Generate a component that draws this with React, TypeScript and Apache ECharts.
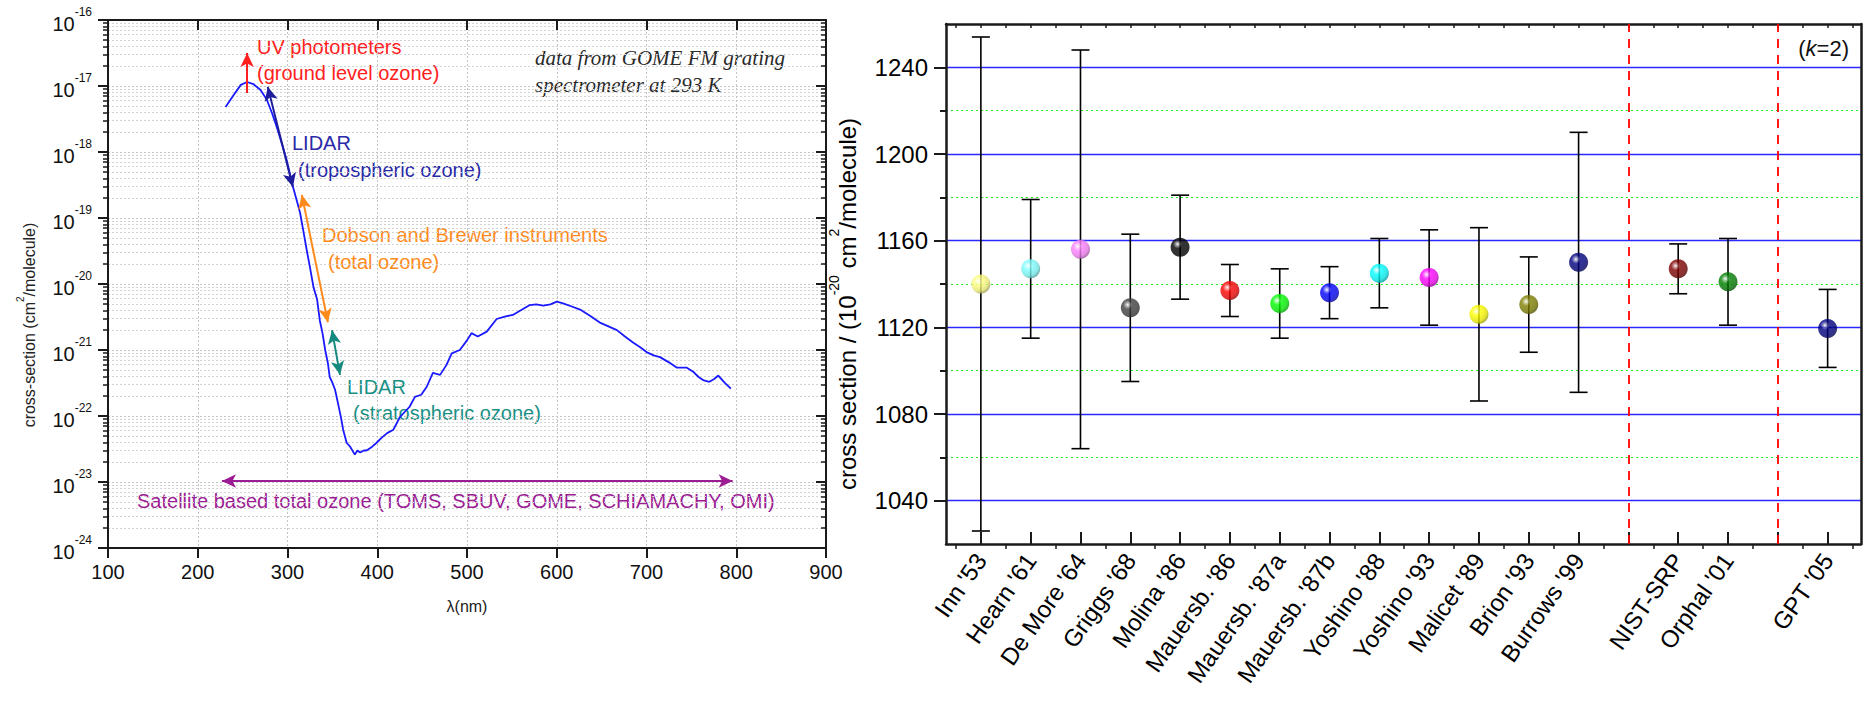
import React, { useEffect, useRef } from 'react';
import * as echarts from 'echarts';

// ---------------- Left panel: O3 absorption cross-section ----------------
const wavelength = [
  231, 240, 248, 255, 262, 270, 277, 283, 288, 294, 299, 303, 306, 310, 314, 318, 322, 325, 329, 333,
  336, 339, 342, 345, 347, 350, 353, 357, 360, 362, 366, 370, 375, 378, 381, 385, 388, 394, 399, 405,
  411, 418, 425, 431, 436, 442, 449, 455, 462, 470, 477, 483, 492, 500, 505, 512, 522, 533, 542, 551,
  560, 570, 577, 585, 593, 600, 607, 616, 626, 637, 648, 657, 667, 676, 685, 693, 700, 708, 715, 725,
  734, 740, 745, 752, 758, 763, 770, 775, 780, 787, 794,
];
const crossSection = [
  4.8e-18, 7.3e-18, 1.04e-17, 1.15e-17, 1.07e-17, 8.7e-18, 6.2e-18, 3.8e-18, 2.4e-18, 1.3e-18,
  7.6e-19, 4.5e-19, 3.0e-19, 1.9e-19, 1.2e-19, 6.0e-20, 2.95e-20, 1.8e-20, 8.9e-21, 5.8e-21,
  2.8e-21, 1.8e-21, 1.0e-21, 6.3e-22, 3.9e-22, 3.2e-22, 2.5e-22, 1.4e-22, 8.9e-23, 6.2e-23,
  3.9e-23, 3.4e-23, 2.6e-23, 3.0e-23, 2.8e-23, 3.0e-23, 3.0e-23, 3.4e-23, 3.9e-23, 4.7e-23,
  5.5e-23, 6.2e-23, 9.5e-23, 1.17e-22, 1.38e-22, 1.95e-22, 2.1e-22, 2.75e-22, 4.5e-22, 4.2e-22,
  5.9e-22, 8.9e-22, 1.0e-21, 1.4e-21, 1.8e-21, 1.6e-21, 1.9e-21, 2.95e-21, 3.2e-21, 3.4e-21,
  4.0e-21, 4.8e-21, 4.9e-21, 4.7e-21, 4.9e-21, 5.4e-21, 5.1e-21, 4.6e-21, 4.1e-21, 3.3e-21,
  2.6e-21, 2.3e-21, 2.0e-21, 1.6e-21, 1.3e-21, 1.1e-21, 9.3e-22, 8.3e-22, 7.8e-22, 6.5e-22,
  5.4e-22, 5.4e-22, 5.4e-22, 4.7e-22, 3.9e-22, 3.5e-22, 3.3e-22, 3.6e-22, 4.1e-22, 3.2e-22, 2.6e-22,
];
const minorFactors = [2, 3, 4, 5, 6, 7, 8, 9];
const decades = [-24, -23, -22, -21, -20, -19, -18, -17];
const lambdaRange = [100, 900];
const sigmaExpRange = [-24, -16];

// annotation arrows in data space [lambda, sigma]
const arrowUV = [[255, 7.8e-18], [255, 3.16e-17]];
const arrowTropo = [[278, 9.7e-18], [306, 2.95e-19]];
const arrowDobson = [[316, 2.24e-19], [345, 2.63e-21]];
const arrowStrato = [[349.6, 2.0e-21], [358.5, 4.2e-22]];
const arrowSat = [[227, 1.035e-23], [796, 1.035e-23]];

// ---------------- Right panel: cross section comparison ----------------
const studies = [
  "Inn '53", "Hearn '61", "De More '64", "Griggs '68", "Molina '86", "Mauersb. '86",
  "Mauersb. '87a", "Mauersb. '87b", "Yoshino '88", "Yoshino '93", "Malicet '89", "Brion '93",
  "Burrows '99", 'NIST-SRP', "Orphal '01", "GPT '05",
];
const studyPos = [1, 2, 3, 4, 5, 6, 7, 8, 9, 10, 11, 12, 13, 15, 16, 18];
const studyValue = [1140, 1147, 1156, 1129, 1157, 1137, 1131, 1136, 1145, 1143, 1126, 1130.5, 1150, 1147, 1141, 1119.5];
const studyError = [114, 32, 92, 34, 24, 12, 16, 12, 16, 22, 40, 22, 60, 11.5, 20, 18];
const studyColor = [
  '#ffff80', '#80ffff', '#ff80ff', '#404040', '#000000', '#ff0000', '#00ff00', '#0000ff',
  '#00ffff', '#ff00ff', '#ffff00', '#808000', '#000080', '#800000', '#008000', '#000080',
];
const dividerPos = [14, 17];
const catTicks = [1, 2, 3, 4, 5, 6, 7, 8, 9, 10, 11, 12, 13, 14, 15, 16, 17, 18];
const rightMajorTicks = [1040, 1080, 1120, 1160, 1200, 1240];
const rightMinorTicks = [1060, 1100, 1140, 1180, 1220];

const FONT = "'Liberation Sans', Arial, Helvetica, sans-serif";
const AXIS = '#1a1a1a';

const lg = (v: number) => Math.log10(v);

function hexToRgb(h: string) {
  const n = parseInt(h.slice(1), 16);
  return [(n >> 16) & 255, (n >> 8) & 255, n & 255];
}
function mix(h: string, target: number, t: number) {
  const c = hexToRgb(h).map((v) => Math.round(v + (target - v) * t));
  return `rgb(${c[0]},${c[1]},${c[2]})`;
}
function sphere(c: string) {
  return new echarts.graphic.RadialGradient(0.36, 0.34, 0.72, [
    { offset: 0, color: '#ffffff' },
    { offset: 0.12, color: mix(c, 255, 0.55) },
    { offset: 0.32, color: c },
    { offset: 0.75, color: mix(c, 0, 0.12) },
    { offset: 1, color: mix(c, 0, 0.45) },
  ]);
}

function arrowLine(pts: number[][], color: string, both: boolean) {
  return [
    { coord: [pts[0][0], lg(pts[0][1])], symbol: both ? 'arrow' : 'none', lineStyle: { color, width: 2, type: 'solid' }, itemStyle: { color } },
    { coord: [pts[1][0], lg(pts[1][1])], symbol: 'arrow', lineStyle: { color, width: 2, type: 'solid' }, itemStyle: { color } },
  ];
}

function txt(text: string, x: number, y: number, fill: string, size = 20, extra: any = {}) {
  return {
    type: 'text',
    x,
    y,
    silent: true,
    style: {
      text,
      fill,
      fontSize: size,
      fontFamily: FONT,
      align: 'left',
      textAlign: 'left',
      verticalAlign: 'middle',
      textVerticalAlign: 'middle',
      ...extra,
    },
  };
}

export default function App() {
  const ref = useRef<HTMLDivElement>(null);
  useEffect(() => {
    document.body.style.margin = '0';
    const chart = echarts.init(ref.current as HTMLDivElement, null, { renderer: 'svg' });

    const logMinor: number[] = [];
    decades.forEach((e) => minorFactors.forEach((k) => logMinor.push(e + Math.log10(k))));
    const catMinor = catTicks.map((t) => t - 0.5).concat([catTicks[catTicks.length - 1] + 0.5]);
    const catAll = catTicks.concat(catMinor).sort((a, b) => a - b);

    const supRich = {
      b: { fontSize: 20, lineHeight: 28, verticalAlign: 'bottom', fontFamily: FONT, color: '#111' },
      s: { fontSize: 12, lineHeight: 13, verticalAlign: 'top', fontFamily: FONT, color: '#111' },
    };

    const option: any = {
      animation: false,
      textStyle: { fontFamily: FONT },
      grid: [
        { left: 108, top: 20, width: 718, height: 528 },
        { left: 946, top: 24, width: 915, height: 520 },
      ],
      xAxis: [
        {
          gridIndex: 0, type: 'value', position: 'bottom', min: lambdaRange[0], max: lambdaRange[1], interval: 100,
          axisLine: { show: true, lineStyle: { color: AXIS, width: 2 } },
          axisTick: { show: true, inside: false, length: 10, lineStyle: { color: AXIS, width: 2 } },
          axisLabel: { fontSize: 20, color: '#111', margin: 14, fontFamily: FONT },
          splitLine: { show: true, lineStyle: { color: '#c4c4c4', type: [2, 2], width: 1 } },
        },
        {
          gridIndex: 0, type: 'value', position: 'top', min: lambdaRange[0], max: lambdaRange[1], interval: 100,
          axisLine: { show: true, lineStyle: { color: AXIS, width: 2 } },
          axisTick: { show: true, inside: true, length: 10, lineStyle: { color: AXIS, width: 2 } },
          axisLabel: { show: false },
          splitLine: { show: false },
        },
        {
          gridIndex: 1, type: 'value', position: 'bottom', min: 0.3, max: 18.67,
          axisLine: { show: true, lineStyle: { color: AXIS, width: 2.5 } },
          axisTick: { show: true, inside: true, length: 12, customValues: catTicks, lineStyle: { color: AXIS, width: 2 } },
          axisLabel: {
            show: true, customValues: studyPos, rotate: 55, fontSize: 24, margin: 12, color: '#000', fontFamily: FONT,
            formatter: (v: number) => {
              const i = studyPos.indexOf(Math.round(v));
              return i >= 0 ? studies[i] : '';
            },
          },
          splitLine: { show: false },
        },
        {
          gridIndex: 1, type: 'value', position: 'bottom', min: 0.3, max: 18.67,
          axisLine: { show: false },
          axisTick: { show: true, inside: false, length: 5, customValues: catMinor, lineStyle: { color: AXIS, width: 1.5 } },
          axisLabel: { show: false },
          splitLine: { show: false },
        },
        {
          gridIndex: 1, type: 'value', position: 'top', min: 0.3, max: 18.67,
          axisLine: { show: true, lineStyle: { color: AXIS, width: 2.5 } },
          axisTick: { show: true, inside: true, length: 4, customValues: catAll, lineStyle: { color: AXIS, width: 1.5 } },
          axisLabel: { show: false },
          splitLine: { show: false },
        },
      ],
      yAxis: [
        {
          gridIndex: 0, type: 'value', position: 'left', min: sigmaExpRange[0], max: sigmaExpRange[1], interval: 1,
          axisLine: { show: true, lineStyle: { color: AXIS, width: 2 } },
          axisTick: { show: true, inside: false, length: 10, lineStyle: { color: AXIS, width: 2 } },
          axisLabel: {
            margin: 16,
            formatter: (v: number) => `{b|10}{s|${Math.round(v)}}`,
            rich: supRich,
          },
          splitLine: { show: true, lineStyle: { color: '#c4c4c4', type: [2, 2], width: 1 } },
        },
        {
          gridIndex: 0, type: 'value', position: 'left', min: sigmaExpRange[0], max: sigmaExpRange[1],
          axisLine: { show: false },
          axisTick: { show: true, inside: false, length: 5, customValues: logMinor, lineStyle: { color: AXIS, width: 1.5 } },
          axisLabel: { show: false },
          splitLine: { show: true, lineStyle: { color: '#d2d2d2', type: [2, 2], width: 1 } },
        },
        {
          gridIndex: 0, type: 'value', position: 'right', min: sigmaExpRange[0], max: sigmaExpRange[1], interval: 1,
          axisLine: { show: true, lineStyle: { color: AXIS, width: 2 } },
          axisTick: { show: true, inside: true, length: 10, lineStyle: { color: AXIS, width: 2 } },
          axisLabel: { show: false },
          splitLine: { show: false },
        },
        {
          gridIndex: 0, type: 'value', position: 'right', min: sigmaExpRange[0], max: sigmaExpRange[1],
          axisLine: { show: false },
          axisTick: { show: true, inside: true, length: 5, customValues: logMinor, lineStyle: { color: AXIS, width: 1.5 } },
          axisLabel: { show: false },
          splitLine: { show: false },
        },
        {
          gridIndex: 1, type: 'value', position: 'left', min: 1020, max: 1260,
          axisLine: { show: true, lineStyle: { color: AXIS, width: 2.5 } },
          axisTick: { show: true, inside: false, length: 12, customValues: rightMajorTicks, lineStyle: { color: AXIS, width: 2 } },
          axisLabel: {
            show: true, customValues: rightMajorTicks, fontSize: 24, color: '#000', margin: 18, fontFamily: FONT,
            formatter: (v: number) => String(Math.round(v)),
          },
          splitLine: { show: true, lineStyle: { color: '#2a2aff', width: 1.3, type: 'solid' } },
        },
        {
          gridIndex: 1, type: 'value', position: 'left', min: 1020, max: 1260,
          axisLine: { show: false },
          axisTick: { show: true, inside: false, length: 6, customValues: rightMinorTicks, lineStyle: { color: AXIS, width: 2 } },
          axisLabel: { show: false },
          splitLine: { show: true, lineStyle: { color: '#22ee22', width: 1, type: [2, 3] } },
        },
        {
          gridIndex: 1, type: 'value', position: 'right', min: 1020, max: 1260,
          axisLine: { show: true, lineStyle: { color: AXIS, width: 2.5 } },
          axisTick: { show: false },
          axisLabel: { show: false },
          splitLine: { show: false },
        },
      ],
      series: [
        {
          type: 'line',
          xAxisIndex: 0,
          yAxisIndex: 0,
          showSymbol: false,
          symbol: 'none',
          data: wavelength.map((w, i) => [w, lg(crossSection[i])]),
          lineStyle: { color: '#1a1aff', width: 1.8 },
          z: 4,
          markLine: {
            silent: true,
            symbolSize: [10, 14],
            label: { show: false },
            data: [
              arrowLine(arrowUV, '#ff1f1f', false),
              arrowLine(arrowTropo, '#1c1c9c', true),
              arrowLine(arrowDobson, '#ff8a1c', true),
              arrowLine(arrowStrato, '#168a7e', true),
              arrowLine(arrowSat, '#9c1c94', true),
            ],
          },
        },
        {
          type: 'custom',
          xAxisIndex: 2,
          yAxisIndex: 4,
          z: 3,
          encode: { x: 0, y: [1, 2] },
          data: studyPos.map((p, i) => [p, studyValue[i] - studyError[i], studyValue[i] + studyError[i]]),
          renderItem: (params: any, api: any) => {
            const x = api.value(0);
            const lo = api.coord([x, api.value(1)]);
            const hi = api.coord([x, api.value(2)]);
            const hw = 9;
            const st = { stroke: '#000', lineWidth: 1.6 };
            return {
              type: 'group',
              children: [
                { type: 'line', shape: { x1: lo[0], y1: lo[1], x2: hi[0], y2: hi[1] }, style: st },
                { type: 'line', shape: { x1: lo[0] - hw, y1: lo[1], x2: lo[0] + hw, y2: lo[1] }, style: st },
                { type: 'line', shape: { x1: hi[0] - hw, y1: hi[1], x2: hi[0] + hw, y2: hi[1] }, style: st },
              ],
            };
          },
        },
        {
          type: 'scatter',
          xAxisIndex: 2,
          yAxisIndex: 4,
          z: 5,
          symbol: 'circle',
          symbolSize: 19,
          data: studyPos.map((p, i) => ({
            value: [p, studyValue[i]],
            itemStyle: { color: sphere(studyColor[i]) },
          })),
          markLine: {
            silent: true,
            symbol: 'none',
            label: { show: false },
            lineStyle: { color: '#ff0000', type: [9, 7], width: 1.8 },
            data: dividerPos.map((x) => ({ xAxis: x })),
          },
        },
      ],
      graphic: [
        txt('UV photometers', 257, 47, '#ff2020', 20),
        txt('(ground level ozone)', 257, 73, '#ff2020', 20),
        txt('LIDAR', 292, 143, '#2a2aa8', 20),
        txt('(tropospheric ozone)', 298, 170, '#2a2aa8', 20),
        txt('Dobson and Brewer instruments', 322, 235, '#ff8a1c', 20),
        txt('(total ozone)', 328, 262, '#ff8a1c', 20),
        txt('LIDAR', 347, 387, '#1a9084', 20),
        txt('(stratospheric ozone)', 353, 413, '#1a9084', 20),
        txt('Satellite based total ozone (TOMS, SBUV, GOME, SCHIAMACHY, OMI)', 137, 501, '#9c1c94', 20),
        txt('data from GOME FM grating', 535, 58, '#2a2a2a', 21, { fontFamily: "'Liberation Serif', 'Times New Roman', serif", fontStyle: 'italic' }),
        txt('spectrometer at 293 K', 535, 85, '#2a2a2a', 21, { fontFamily: "'Liberation Serif', 'Times New Roman', serif", fontStyle: 'italic' }),
        txt('λ(nm)', 467, 606, '#222', 16, { align: 'center', textAlign: 'center' }),
        {
          type: 'text', x: 26, y: 325, rotation: Math.PI / 2, silent: true,
          style: {
            text: '{b|cross-section (cm}{s|2}{b|/molecule)}',
            align: 'center', textAlign: 'center', verticalAlign: 'middle', textVerticalAlign: 'middle',
            rich: {
              b: { fontSize: 16, lineHeight: 22, verticalAlign: 'bottom', fontFamily: FONT, fill: '#222' },
              s: { fontSize: 10, lineHeight: 11, verticalAlign: 'top', fontFamily: FONT, fill: '#222' },
            },
          },
        },
        {
          type: 'text', x: 843, y: 304, rotation: Math.PI / 2, silent: true,
          style: {
            text: '{b|cross section / (10}{s|-20}{b| cm}{s|2}{b|/molecule)}',
            align: 'center', textAlign: 'center', verticalAlign: 'middle', textVerticalAlign: 'middle',
            rich: {
              b: { fontSize: 24, lineHeight: 32, verticalAlign: 'bottom', fontFamily: FONT, fill: '#000' },
              s: { fontSize: 14, lineHeight: 15, verticalAlign: 'top', fontFamily: FONT, fill: '#000' },
            },
          },
        },
        {
          type: 'text', x: 1849, y: 48, silent: true,
          style: {
            text: '{b|(}{i|k}{b|=2)}',
            align: 'right', textAlign: 'right', verticalAlign: 'middle', textVerticalAlign: 'middle',
            rich: {
              b: { fontSize: 22, fontFamily: FONT, fill: '#111' },
              i: { fontSize: 22, fontFamily: FONT, fontStyle: 'italic', fill: '#111' },
            },
          },
        },
      ],
    };

    chart.setOption(option);
    return () => chart.dispose();
  }, []);

  return <div ref={ref} style={{ position: 'absolute', left: 0, top: 0, width: 1863, height: 706 }} />;
}
